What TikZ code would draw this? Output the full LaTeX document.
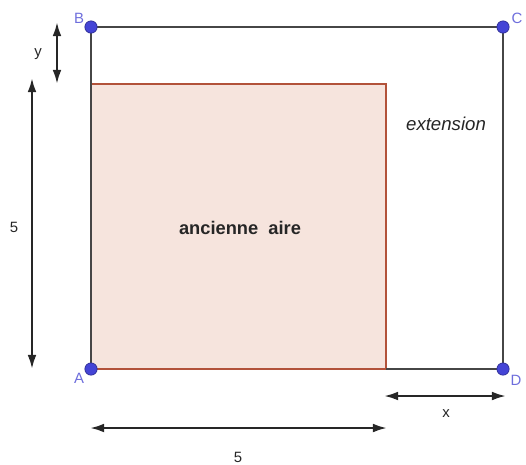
\documentclass[tikz,border=0pt]{standalone}
\usepackage{fontspec}
\setmainfont{Liberation Sans}
\usetikzlibrary{arrows.meta}

\definecolor{ptblue}{RGB}{68,68,214}
\definecolor{lblblue}{RGB}{110,110,220}
\definecolor{oldedge}{RGB}{178,82,58}
\definecolor{oldfill}{RGB}{246,228,221}
\definecolor{edgegray}{RGB}{70,70,70}

\tikzset{
  point/.style = {circle, fill=ptblue, draw=ptblue!70!black, inner sep=0pt, minimum size=7pt},
  ptlabel/.style = {text=lblblue, font=\fontsize{8.5}{10}\selectfont},
  dim/.style = {line width=1.3pt, color=black!85, {Latex[length=8pt,width=5pt]}-{Latex[length=8pt,width=5pt]}},
  lbl/.style = {font=\fontsize{8.5}{10}\selectfont, text=black!85}
}

\begin{document}
\begin{tikzpicture}[x = 0.02cm, y = -0.02cm]
\useasboundingbox (0,0) rectangle (526,464);
% old square
\draw [fill=oldfill, draw=oldedge, line width=1.1pt] (91,84) rectangle (386,369);
% new square
\draw [line width=1.1pt, edgegray] (91,369) -- (91,84);
\draw [line width=1.1pt, edgegray] (91,84) -- (91,27) -- (503,27) -- (503,369) -- (386,369);
\node[point] (A) at (91,369) {};
\node[point] (B) at (91,27) {};
\node[point] (C) at (503,27) {};
\node[point] (D) at (503,369) {};
\node[ptlabel] at (79,378) {A};
\node[ptlabel] at (79,18) {B};
\node[ptlabel] at (517,18) {C};
\node[ptlabel] at (516,380) {D};
% dimensions
\coordinate (y1) at (57,22);
\coordinate (y2) at (57,84);
\draw [dim] (y1) -- (y2);
\node[lbl] (ylab) at (38,54) {y};
\coordinate (h1) at (32,78);
\coordinate (h2) at (32,369);
\draw [dim] (h1) -- (h2);
\node[lbl] (hlab) at (14,227) {5};
\coordinate (w1) at (90,428);
\coordinate (w2) at (387,428);
\draw [dim] (w1) -- (w2);
\node[lbl] (wlab) at (238,457) {5};
\coordinate (x1) at (384,396);
\coordinate (x2) at (506,396);
\draw [dim] (x1) -- (x2);
\node[lbl] (xlab) at (446,414) {x};
% texts
\node[lbl, font=\fontsize{10.6}{12}\selectfont\itshape] (ext) at (446,124) {extension};
\node[lbl, font=\fontsize{10.4}{12}\selectfont\bfseries] (old) at (240,228) {ancienne\ \ aire};
\end{tikzpicture}
\end{document}
